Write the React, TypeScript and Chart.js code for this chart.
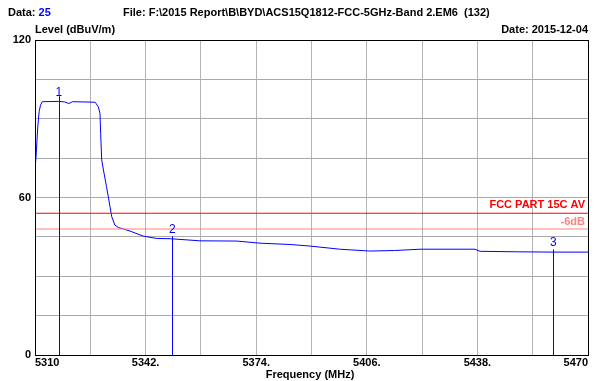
import React, { useEffect, useRef } from "react";
import { Chart, registerables } from "chart.js";

Chart.register(...registerables);

// ---- data ----
const freqMHz = [
  5310, 5310.3, 5310.8, 5311.2, 5311.6, 5312.1, 5316.9, 5318.6, 5319.8, 5320.9,
  5327.4, 5328.3, 5328.8, 5329.0, 5329.3, 5329.8, 5330.7, 5331.7, 5332.2, 5333.1,
  5334.1, 5337.5, 5341.3, 5345.2, 5349.1, 5357.7, 5368.4, 5375.1, 5383.8, 5389.6,
  5398.2, 5406.9, 5414.0, 5421.4, 5437.3, 5438.8, 5450.3, 5460.0, 5470,
];
const levelDbuv = [
  70.9, 75.5, 86.9, 92.7, 95.2, 96.5, 96.6, 96.4, 95.8, 96.5,
  96.3, 94.6, 92.1, 84.4, 74.3, 70.5, 64.1, 56.5, 52.7, 49.5,
  48.6, 47.2, 45.3, 44.4, 44.3, 43.5, 43.4, 42.6, 42.1, 41.5,
  40.3, 39.6, 39.8, 40.3, 40.3, 39.5, 39.3, 39.2, 39.2,
];
const limitAv = 54;
const limitAvMinus6 = 48;
const markerFreq = [5316.9, 5349.7, 5460.0];
const markerLevel = [96.6, 44.2, 39.2];
const markerLabels = ["1", "2", "3"];
const xLabelledTicks = [5310, 5342, 5374, 5406, 5438, 5470];
const yLabelledTicks = [0, 60, 120];

const FONT = "'Liberation Sans', Arial, sans-serif";

const overlayPlugin = {
  id: "overlay",
  afterDatasetsDraw(chart: any) {
    const { ctx, chartArea, scales } = chart;
    const x = scales.x;
    const y = scales.y;
    ctx.save();
    // marker lines (pixel aligned) and labels
    ctx.strokeStyle = "#0000ff";
    ctx.lineWidth = 1;
    markerFreq.forEach((f, i) => {
      const px = Math.round(x.getPixelForValue(f)) + 0.5;
      const py = y.getPixelForValue(markerLevel[i] + (i === 0 ? 2 : 1));
      ctx.beginPath();
      ctx.moveTo(px, py);
      ctx.lineTo(px, y.getPixelForValue(0));
      ctx.stroke();
    });
    ctx.textBaseline = "middle";
    ctx.font = `12px ${FONT}`;
    ctx.fillStyle = "#0000ff";
    ctx.textAlign = "center";
    markerFreq.forEach((f, i) => {
      const px = x.getPixelForValue(f);
      const py = y.getPixelForValue(markerLevel[i]);
      ctx.fillText(markerLabels[i], px, py - 9);
    });
    // limit labels
    ctx.textAlign = "right";
    ctx.font = `bold 11px ${FONT}`;
    ctx.fillStyle = "#ff0000";
    ctx.fillText("FCC PART 15C AV", chartArea.right - 3, y.getPixelForValue(limitAv) - 8);
    ctx.fillStyle = "#ff8080";
    ctx.fillText("-6dB", chartArea.right - 3, y.getPixelForValue(limitAvMinus6) - 7);
    ctx.restore();
  },
  afterDraw(chart: any) {
    const { ctx, chartArea } = chart;
    const { left, right, top, bottom } = chartArea;
    ctx.save();
    ctx.strokeStyle = "#000000";
    ctx.lineWidth = 1;
    ctx.strokeRect(Math.round(left) + 0.5, Math.round(top) + 0.5, Math.round(right - left), Math.round(bottom - top));
    ctx.textBaseline = "middle";
    ctx.font = `bold 11px ${FONT}`;
    ctx.textAlign = "left";
    ctx.fillStyle = "#000000";
    ctx.fillText("Data:", 8, 13);
    const w = ctx.measureText("Data: ").width;
    ctx.fillStyle = "#0000ff";
    ctx.fillText("25", 8 + w, 13);
    ctx.fillStyle = "#000000";
    ctx.fillText("File: F:\\2015 Report\\B\\BYD\\ACS15Q1812-FCC-5GHz-Band 2.EM6  (132)", 123, 13);
    ctx.fillText("Level (dBuV/m)", left, 30);
    ctx.textAlign = "right";
    ctx.fillText("Date: 2015-12-04", right, 30);
    ctx.textAlign = "center";
    ctx.fillText("Frequency (MHz)", 310, 375);
    ctx.restore();
  },
};

export default function App() {
  const canvasRef = useRef<HTMLCanvasElement | null>(null);

  useEffect(() => {
    const canvas = canvasRef.current;
    if (!canvas) return;
    const trace = freqMHz.map((f, i) => ({ x: f, y: levelDbuv[i] }));
    const chart = new Chart(canvas, {
      type: "line",
      data: {
        datasets: [
          {
            label: "FCC PART 15C AV",
            data: [{ x: 5310, y: limitAv }, { x: 5470, y: limitAv }],
            borderColor: "#ff0000",
            borderWidth: 1,
            pointRadius: 0,
          },
          {
            label: "-6dB",
            data: [{ x: 5310, y: limitAvMinus6 }, { x: 5470, y: limitAvMinus6 }],
            borderColor: "#ff8080",
            borderWidth: 1,
            pointRadius: 0,
          },
          {
            label: "Level",
            data: trace,
            borderColor: "#0000ff",
            borderWidth: 1,
            pointRadius: 0,
            tension: 0,
          },
        ],
      },
      options: {
        animation: false,
        responsive: false,
        devicePixelRatio: 1,
        layout: { padding: { top: 40, right: 7, left: 0, bottom: 0 } },
        plugins: { legend: { display: false }, tooltip: { enabled: false }, title: { display: false } },
        scales: {
          x: {
            type: "linear",
            min: 5310,
            max: 5470,
            afterFit: (s: any) => {
              s.height = 26;
            },
            afterBuildTicks: (s: any) => {
              const t = [];
              for (let v = 5310; v <= 5470; v += 16) t.push({ value: v });
              s.ticks = t;
            },
            ticks: {
              autoSkip: false,
              maxRotation: 0,
              align: "inner",
              padding: 1,
              color: "#000000",
              font: { family: FONT, size: 11, weight: "bold" },
              callback: (v: any) => {
                if (v === 5310 || v === 5470) return String(v);
                return xLabelledTicks.includes(v) ? v + "." : "";
              },
            },
            grid: { color: "#b4b4b4", lineWidth: 1, drawTicks: false },
            border: { color: "#000000", width: 1 },
          },
          y: {
            type: "linear",
            min: 0,
            max: 120,
            afterFit: (s: any) => {
              s.width = 35;
            },
            afterBuildTicks: (s: any) => {
              const t = [];
              for (let v = 0; v <= 120; v += 15) t.push({ value: v });
              s.ticks = t;
            },
            ticks: {
              autoSkip: false,
              padding: 4,
              color: "#000000",
              font: { family: FONT, size: 11, weight: "bold" },
              callback: (v: any) => (yLabelledTicks.includes(v) ? String(v) : ""),
            },
            grid: { color: "#aaaaaa", lineWidth: 1, drawTicks: false },
            border: { color: "#000000", width: 1 },
          },
        },
      } as any,
      plugins: [overlayPlugin],
    });
    return () => chart.destroy();
  }, []);

  return (
    <div style={{ position: "absolute", left: 0, top: 0, width: 595, height: 381, background: "#ffffff" }}>
      <canvas ref={canvasRef} width={595} height={381} style={{ width: 595, height: 381, display: "block" }} />
    </div>
  );
}
